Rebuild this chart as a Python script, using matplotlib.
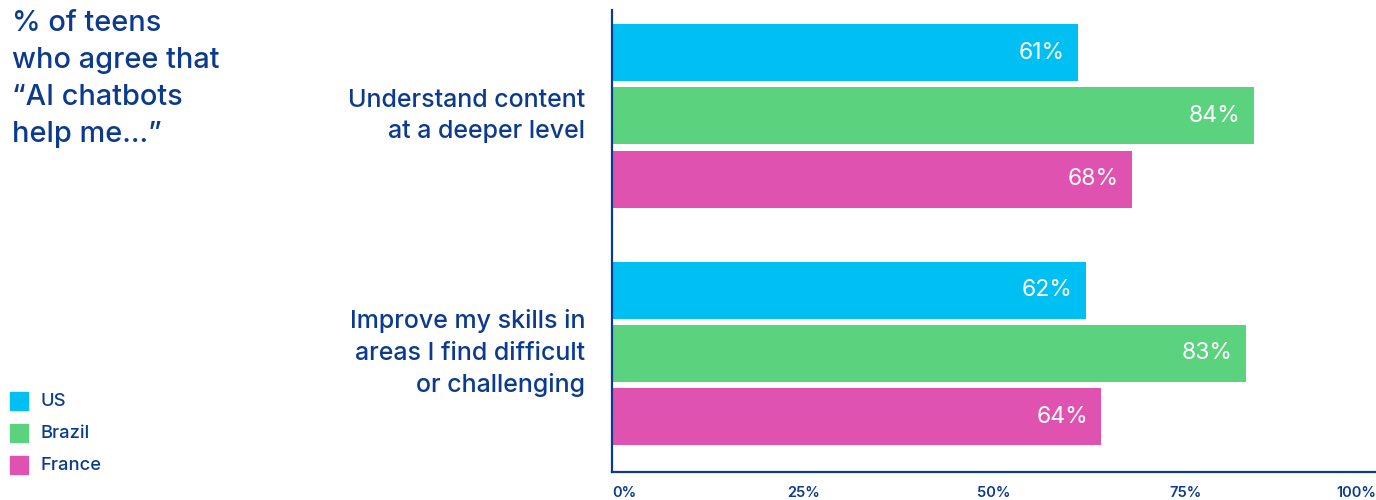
import matplotlib
matplotlib.use("Agg")
import matplotlib.pyplot as plt
from matplotlib.patches import Rectangle
import numpy as np

# Survey data
statements = ["Understand content\nat a deeper level",
              "Improve my skills in\nareas I find difficult\nor challenging"]
countries = ["US", "Brazil", "France"]
us_values = [61, 62]
brazil_values = [84, 83]
france_values = [68, 64]
x_ticks = [0, 25, 50, 75, 100]
x_tick_labels = ["0%", "25%", "50%", "75%", "100%"]
title_text = "% of teens\nwho agree that\n\u201cAI chatbots\nhelp me...\u201d"

colors = ["#00BFF3", "#5BD27D", "#E052AF"]
navy = "#0B3A8E"
FONT = ["Inter", "DejaVu Sans"]

plt.rcParams["font.family"] = FONT

W, H, DPI = 1376, 500, 100
fig = plt.figure(figsize=(W / DPI, H / DPI), dpi=DPI)
ax = fig.add_axes([612 / W, 1 - 472 / H, (1376 - 612) / W, (472 - 10) / H])

series = [us_values, brazil_values, france_values]
pitch = 0.267
bar_h = 0.24
y_base = np.arange(len(statements))
for i, (vals, col) in enumerate(zip(series, colors)):
    ypos = y_base + (i - 1) * pitch
    bars = ax.barh(ypos, vals, height=bar_h, color=col, edgecolor="none")
    for b, v in zip(bars, vals):
        ax.annotate(f"{v}%", xy=(b.get_width(), b.get_y() + b.get_height() / 2),
                    xytext=(-13, 0), textcoords="offset pixels",
                    ha="right", va="center", color="white", fontsize=16.5)

ax.set_xlim(0, 100)
ax.set_ylim(1.499, -0.446)
ax.set_yticks([])
ax.set_xticks(x_ticks)
ax.set_xticklabels(x_tick_labels, fontsize=10.5, color=navy, fontweight="semibold")
ax.tick_params(axis="x", length=0, pad=10)
labels = ax.get_xticklabels()
labels[0].set_ha("left")
labels[-1].set_ha("right")
for side in ["top", "right"]:
    ax.spines[side].set_visible(False)
for side in ["left", "bottom"]:
    ax.spines[side].set_color(navy)
    ax.spines[side].set_linewidth(1.6)

# Statement labels to the left of the bars
for yb, txt in zip(y_base, statements):
    ax.annotate(txt, xy=(0, yb), xytext=(-27, 0), textcoords="offset pixels",
                ha="right", va="center", color=navy, fontsize=18,
                fontweight="medium", linespacing=1.46,
                multialignment="right", annotation_clip=False)

# Title block
fig.text(12 / W, 1 - 10 / H, title_text, ha="left", va="top", color=navy,
         fontsize=20.8, fontweight="medium", linespacing=1.48)

# Legend
for k, (name, col) in enumerate(zip(countries, colors)):
    yc = 401 + k * 32
    fig.patches.append(Rectangle((10 / W, 1 - (yc + 9) / H), 18 / W, 18 / H,
                                 transform=fig.transFigure, color=col))
    fig.text(40 / W, 1 - yc / H, name, ha="left", va="center", color=navy,
             fontsize=13.2, fontweight="medium")

fig.savefig("out.png", dpi=DPI)
